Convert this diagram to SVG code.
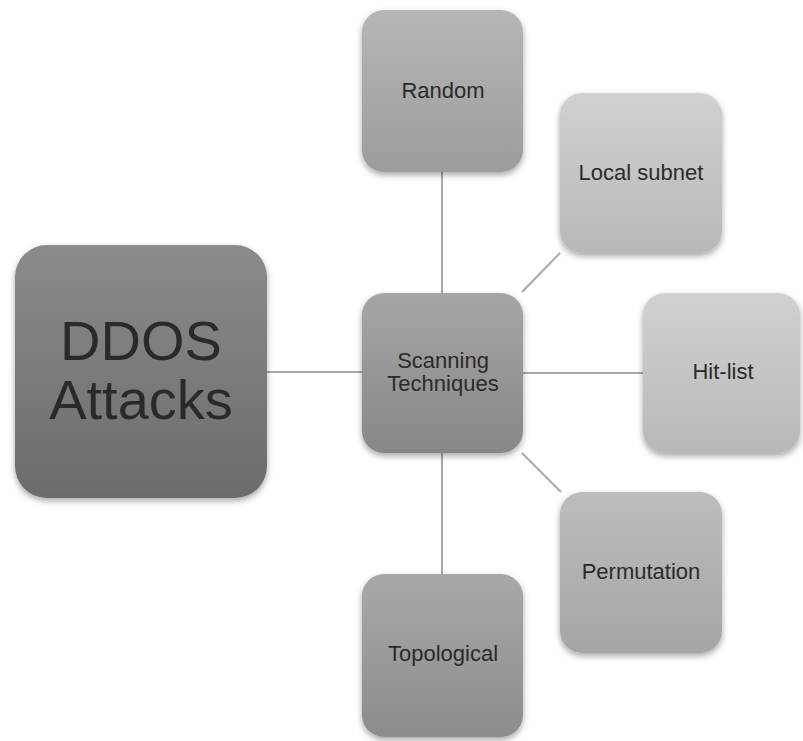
<svg xmlns="http://www.w3.org/2000/svg" width="803" height="741" viewBox="0 0 803 741">
<defs>
<linearGradient id="gDark" x1="0" y1="0" x2="0" y2="1"><stop offset="0" stop-color="#8c8a8a"/><stop offset="1" stop-color="#6d6b6b"/></linearGradient>
<linearGradient id="gMid" x1="0" y1="0" x2="0" y2="1"><stop offset="0" stop-color="#a7a6a6"/><stop offset="1" stop-color="#888787"/></linearGradient>
<linearGradient id="gRandom" x1="0" y1="0" x2="0" y2="1"><stop offset="0" stop-color="#b6b6b6"/><stop offset="1" stop-color="#9c9c9c"/></linearGradient>
<linearGradient id="gLight" x1="0" y1="0" x2="0" y2="1"><stop offset="0" stop-color="#d1d1d1"/><stop offset="1" stop-color="#b8b8b8"/></linearGradient>
<linearGradient id="gPerm" x1="0" y1="0" x2="0" y2="1"><stop offset="0" stop-color="#bdbdbd"/><stop offset="1" stop-color="#a5a5a5"/></linearGradient>
<linearGradient id="gTopo" x1="0" y1="0" x2="0" y2="1"><stop offset="0" stop-color="#a8a8a8"/><stop offset="1" stop-color="#8c8c8c"/></linearGradient>
<filter id="sh" x="-20%" y="-20%" width="140%" height="145%"><feDropShadow dx="0" dy="3" stdDeviation="3" flood-color="#000" flood-opacity="0.35"/></filter>
</defs>
<style>
.box{filter:url(#sh)}
.t{font-family:"Liberation Sans",Arial,sans-serif;fill:#2b2a2a;text-anchor:middle}
.s{font-size:22px}
.big{font-size:56px}
.c{stroke:#a8a8a8;stroke-width:2;fill:none}
</style>
<g id="connectors">
<line class="c" x1="267" y1="372" x2="362" y2="372"/>
<line class="c" x1="442" y1="172" x2="442" y2="293"/>
<line class="c" x1="560" y1="253" x2="522" y2="292"/>
<line class="c" x1="523" y1="373" x2="643" y2="373"/>
<line class="c" x1="522" y1="453" x2="561" y2="492"/>
<line class="c" x1="442" y1="453" x2="442" y2="574"/>
</g>
<g id="ddos">
<rect class="box" x="15" y="245" width="252" height="253" rx="32" fill="url(#gDark)"/>
<text class="t big" x="141" y="360">DDOS</text>
<text class="t big" x="141" y="419">Attacks</text>
</g>
<g id="scanning">
<rect class="box" x="362" y="293" width="161" height="160" rx="22" fill="url(#gMid)"/>
<text class="t s" x="443" y="368">Scanning</text>
<text class="t s" x="443" y="391">Techniques</text>
</g>
<g id="random">
<rect class="box" x="362" y="10" width="161" height="162" rx="22" fill="url(#gRandom)"/>
<text class="t s" x="443" y="98">Random</text>
</g>
<g id="local-subnet">
<rect class="box" x="560" y="93" width="162" height="160" rx="22" fill="url(#gLight)"/>
<text class="t s" x="641" y="180">Local subnet</text>
</g>
<g id="hit-list">
<rect class="box" x="643" y="293" width="157" height="160" rx="22" fill="url(#gLight)"/>
<text class="t s" x="723" y="379">Hit-list</text>
</g>
<g id="permutation">
<rect class="box" x="560" y="492" width="162" height="161" rx="22" fill="url(#gPerm)"/>
<text class="t s" x="641" y="579">Permutation</text>
</g>
<g id="topological">
<rect class="box" x="362" y="574" width="161" height="163" rx="22" fill="url(#gTopo)"/>
<text class="t s" x="443" y="661">Topological</text>
</g>
</svg>
